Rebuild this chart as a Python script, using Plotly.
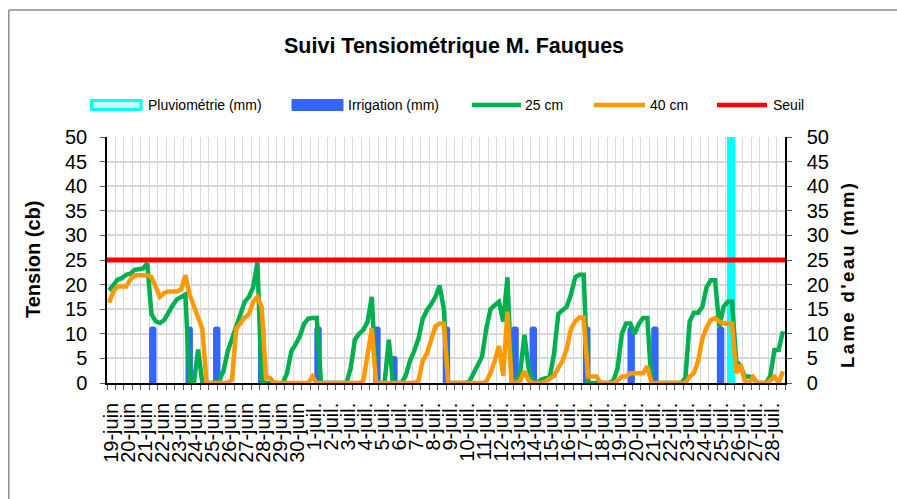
import plotly.graph_objects as go

# ---------------- data ----------------
# day labels (19 June -> 28 July)
day_labels = [f"{d}-juin" for d in range(19, 31)] + [f"{d}-juil." for d in range(1, 29)]

# readings every 6 hours (4 per day), tension in cb
tension_25cm = [
    18.8, 20, 21, 21.3, 22, 22.2, 23, 23.1, 23.3, 24.3,
    14, 12.5, 12.2, 12.8, 14.5, 15.8, 17, 17.5, 18, 0,
    0, 6.8, 0, 0, 0, 0, 0.5, 2.5, 6.5, 9,
    11.5, 14, 16.5, 17.5, 19.5, 24.5, 0, 0, 0, 0,
    0, 0, 2, 6.5, 7.8, 9.5, 12, 13.1, 13.2, 13.2,
    0, 0, 0, 0, 0, 0, 0, 3, 8.8, 10,
    10.8, 12.5, 17.5, 0, 0, 0, 8.8, 0, 0, 0,
    1.5, 4.5, 6.5, 9, 13, 14.8, 16, 17.5, 19.8, 15,
    0, 0, 0, 0, 0, 0.3, 2, 4, 5.3, 11,
    15, 15.8, 16.5, 12.5, 21.5, 0, 0.5, 2, 9.8, 3,
    0, 0, 0.7, 1, 1.2, 6, 14, 14.8, 15.5, 18,
    21.5, 22, 22, 0, 0, 0, 0, 0, 0, 0.5,
    3, 10, 12.1, 12.1, 10, 12, 13.2, 13.2, 0, 0,
    0, 0, 0, 0, 0, 0, 1, 12.5, 14.3, 14.3,
    15.5, 19.5, 20.9, 20.9, 11.5, 15.5, 16.5, 16.5, 4.4, 3.5,
    1.3, 1.3, 1.0, 0, 0, 0, 1.3, 6.7, 6.7, 10.5,
]
tension_40cm = [
    16.3, 18.6, 19.6, 19.6, 19.6, 21, 21.9, 21.9, 21.9, 21.9,
    21.5, 19.5, 17.5, 18.3, 18.6, 18.6, 18.6, 19, 21.9, 18,
    15.3, 13.3, 11, 0, 0, 0, 0, 0, 0, 0.7,
    11, 12.2, 13.3, 14, 16.5, 17.5, 15.5, 1.0, 1.0, 0,
    0, 0, 0, 0, 0, 0, 0, 0, 1.3, 0,
    0, 0, 0, 0, 0, 0, 0, 0, 0, 0,
    0.5, 6, 11.1, 0, 0, 0, 0, 0, 0, 0,
    0, 0, 0, 0.5, 4.5, 6, 8.5, 11.5, 12.1, 12.1,
    0, 0, 0, 0, 0, 0, 0, 0, 0, 0.3,
    2, 4.5, 7.5, 1.5, 14.5, 0, 0, 0.5, 2.4, 0.5,
    0, 0, 0, 0.3, 1, 1.5, 3, 4.5, 7, 11,
    12.5, 13.3, 13.3, 1.3, 1.3, 1.3, 0, 0, 0, 0,
    0.5, 1.3, 1.3, 2, 2, 2, 2, 3.4, 0, 0,
    0, 0, 0, 0, 0, 0, 0, 1.3, 2, 4.5,
    9, 11.3, 12.8, 13.2, 12.5, 12.1, 12.1, 12.1, 2, 3.7,
    0.5, 0, 1.2, 0, 0, 0, 0.5, 1.3, 0, 2.4,
]
seuil_value = 25

# irrigation events: position in 6-hour reading index, amount (mm)
irrigation_idx = [10.3, 18.9, 25.4, 36.0, 49.3, 63.2, 67.2, 79.6, 95.8, 100.1, 112.7, 123.2, 128.8, 144.3]
irrigation_mm = [11.5, 11.5, 11.5, 11.5, 11.5, 11.5, 5.5, 11.5, 11.5, 11.5, 11.5, 11.5, 11.5, 11.5]
# rainfall events
pluie_idx = [146.8]
pluie_mm = [55]

# ---------------- layout helpers ----------------
W, H = 897, 499
ML, MR, MT, MB = 107, 112, 137, 116
PW, PH = W - ML - MR, H - MT - MB


def px2x(px):
    """window pixel x -> paper x"""
    return (px - ML) / PW


def px2y(py):
    """window pixel y -> paper y"""
    return (H - MB - py) / PH


n = len(tension_25cm)
xs = [i + 0.5 for i in range(n)]

FONT = "Liberation Sans, Arial, sans-serif"
GREEN = "#00B050"
ORANGE = "#FF9900"
RED = "#FF0000"
BLUE = "#3366FF"
CYAN = "#00FFFF"
GRID = "#D9D9D9"
TICK = "#595959"

fig = go.Figure()

fig.add_trace(go.Bar(
    x=[p + 0.5 for p in pluie_idx], y=pluie_mm, width=2.0, name="Pluviométrie (mm)",
    marker=dict(color=CYAN, line=dict(width=0)), showlegend=False,
))
fig.add_trace(go.Bar(
    x=[p + 0.5 for p in irrigation_idx], y=irrigation_mm, width=1.75, name="Irrigation (mm)",
    marker=dict(color=BLUE, line=dict(width=0), cornerradius=3), showlegend=False,
))
fig.add_trace(go.Scatter(
    x=xs, y=tension_25cm, mode="lines", name="25 cm",
    line=dict(color=GREEN, width=4.5), showlegend=False,
))
fig.add_trace(go.Scatter(
    x=xs, y=tension_40cm, mode="lines", name="40 cm",
    line=dict(color=ORANGE, width=4.5), showlegend=False,
))
fig.add_trace(go.Scatter(
    x=[0, n], y=[seuil_value, seuil_value], mode="lines", name="Seuil", yaxis="y2",
    line=dict(color=RED, width=5), showlegend=False,
))

label_pos = [4 * d + 1 for d in range(len(day_labels))]

fig.update_layout(
    width=W, height=H,
    margin=dict(l=ML, r=MR, t=MT, b=MB, autoexpand=False),
    paper_bgcolor="white", plot_bgcolor="white",
    font=dict(family=FONT, color="black"),
    barmode="overlay",
    showlegend=False,
    xaxis=dict(
        range=[0, n], tickmode="array", tickvals=label_pos, ticktext=day_labels,
        tickangle=-90, ticks="", showgrid=False, zeroline=False,
        tickfont=dict(size=20, family=FONT, color="black"),
        ticklabelstandoff=10,
        showline=True, linecolor="black", linewidth=1.5,
        minor=dict(tickmode="linear", tick0=0, dtick=2, ticks="outside", ticklen=5,
                   tickcolor=TICK, showgrid=True, gridcolor=GRID, gridwidth=1),
    ),
    yaxis=dict(
        range=[0, 50], dtick=5, tick0=0, ticks="outside", ticklen=5, tickcolor=TICK,
        showgrid=True, gridcolor=GRID, gridwidth=1.5, zeroline=False,
        showline=True, linecolor="black", linewidth=1.5,
        tickfont=dict(size=20, family=FONT, color="black"), ticklabelstandoff=9,
    ),
    yaxis2=dict(
        range=[0, 50], dtick=5, tick0=0, overlaying="y", side="right",
        ticks="outside", ticklen=5, tickcolor=TICK, showgrid=False, zeroline=False,
        showline=True, linecolor="black", linewidth=1.5,
        tickfont=dict(size=20, family=FONT, color="black"), ticklabelstandoff=11,
    ),
)

shapes = []
annotations = []

# outer frame (top & left edges visible)
shapes.append(dict(type="line", xref="paper", yref="paper", x0=px2x(8.8), x1=px2x(905),
                   y0=px2y(10), y1=px2y(10), line=dict(color="#8C8C8C", width=1.5)))
shapes.append(dict(type="line", xref="paper", yref="paper", x0=px2x(8.8), x1=px2x(8.8),
                   y0=px2y(10), y1=px2y(510), line=dict(color="#8C8C8C", width=1.5)))

# title
annotations.append(dict(text="<b>Suivi Tensiométrique M. Fauques</b>", xref="paper", yref="paper",
                        x=px2x(454), y=px2y(46), xanchor="center", yanchor="middle",
                        showarrow=False, font=dict(size=21.5, family=FONT, color="black")))

# axis titles
annotations.append(dict(text="<b>Tension (cb)</b>", xref="paper", yref="paper",
                        x=px2x(33), y=px2y(260), xanchor="center", yanchor="middle", textangle=-90,
                        showarrow=False, font=dict(size=20, family=FONT, color="black")))
annotations.append(dict(text="<span style='letter-spacing:2.4px'><b>Lame d'eau (mm)</b></span>",
                        xref="paper", yref="paper",
                        x=px2x(847), y=px2y(275), xanchor="center", yanchor="middle", textangle=-90,
                        showarrow=False, font=dict(size=18.5, family=FONT, color="black")))

# legend (drawn manually to mimic the long symbols)
LY = 105
legend_items = [
    ("rect_cyan", 91.5, 141, 146, "Pluviométrie (mm)"),
    ("rect_blue", 292, 343, 346, "Irrigation (mm)"),
    ("line_" + GREEN, 472, 521, 523, "25 cm"),
    ("line_" + ORANGE, 594, 645, 648, "40 cm"),
    ("line_" + RED, 717, 767, 771, "Seuil"),
]
for kind, sx0, sx1, tx, txt in legend_items:
    if kind == "rect_cyan":
        shapes.append(dict(type="rect", xref="paper", yref="paper", x0=px2x(sx0), x1=px2x(sx1),
                           y0=px2y(LY + 4.5), y1=px2y(LY - 4.5), fillcolor="#CCFFFF",
                           line=dict(color=CYAN, width=3)))
    elif kind == "rect_blue":
        shapes.append(dict(type="rect", xref="paper", yref="paper", x0=px2x(sx0), x1=px2x(sx1),
                           y0=px2y(LY + 5.5), y1=px2y(LY - 5.5), fillcolor=BLUE,
                           line=dict(color=BLUE, width=1)))
    else:
        col = kind.split("_", 1)[1]
        shapes.append(dict(type="line", xref="paper", yref="paper", x0=px2x(sx0), x1=px2x(sx1),
                           y0=px2y(LY), y1=px2y(LY), line=dict(color=col, width=4.5)))
    annotations.append(dict(text=txt, xref="paper", yref="paper", x=px2x(tx), y=px2y(LY),
                            xanchor="left", yanchor="middle", showarrow=False,
                            font=dict(size=14, family=FONT, color="black")))

fig.update_layout(shapes=shapes, annotations=annotations)

# place the figure at the window's top-left corner (remove default page margin / scrollbars)
fig.write_html(
    "out.html",
    config={"displayModeBar": False},
    post_script="document.body.style.margin='0px';document.documentElement.style.overflow='hidden';",
)
